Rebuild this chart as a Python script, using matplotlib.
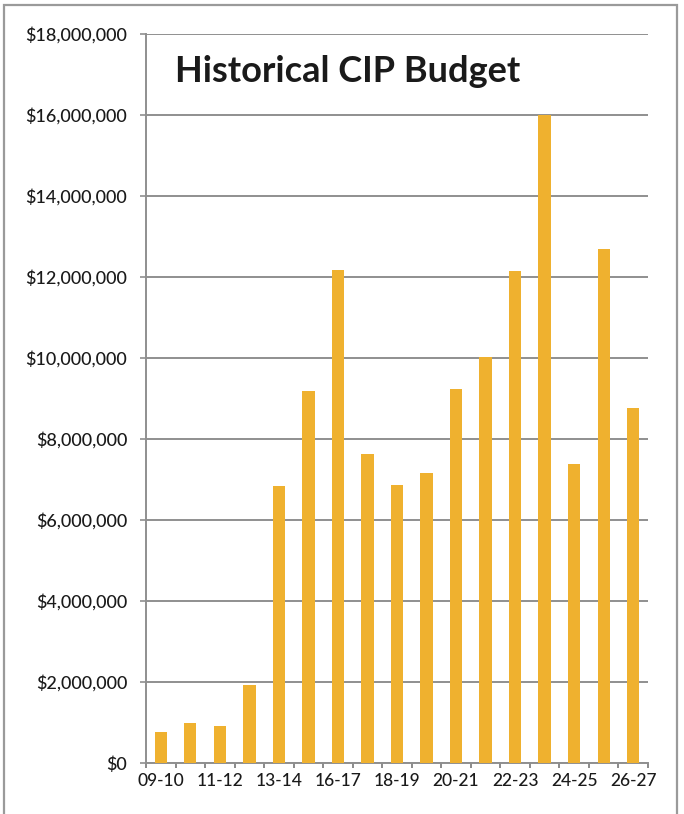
import matplotlib
matplotlib.use("Agg")
import matplotlib.pyplot as plt
from matplotlib.ticker import FuncFormatter, MultipleLocator, FixedLocator
from matplotlib.patches import Rectangle

# Fiscal years and CIP budget amounts (dollars)
fiscal_years = ["09-10", "10-11", "11-12", "12-13", "13-14", "15-16", "16-17",
                "17-18", "18-19", "19-20", "20-21", "21-22", "22-23", "23-24",
                "24-25", "25-26", "26-27"]
budget = [770_000, 1_000_000, 910_000, 1_920_000, 6_850_000, 9_190_000,
          12_170_000, 7_640_000, 6_860_000, 7_170_000, 9_230_000, 10_030_000,
          12_150_000, 16_000_000, 7_380_000, 12_680_000, 8_760_000]
shown_labels = ["09-10", "11-12", "13-14", "16-17", "18-19", "20-21",
                "22-23", "24-25", "26-27"]
title_text = "Historical CIP Budget"

plt.rcParams["font.family"] = ["Lato", "DejaVu Sans"]

fig = plt.figure(figsize=(6.84, 8.14), dpi=100)
ax = fig.add_axes([146 / 684, 1 - 763 / 814, (648 - 146) / 684, (763 - 34) / 814])

x = list(range(len(fiscal_years)))
ax.bar(x, budget, width=0.42, color="#EFB12F", zorder=3)

ax.set_ylim(0, 18_000_000)
ax.set_xlim(-0.5, len(fiscal_years) - 0.5)
ax.yaxis.set_major_locator(MultipleLocator(2_000_000))
ax.yaxis.set_major_formatter(FuncFormatter(lambda v, _: f"${v:,.0f}"))
ax.grid(axis="y", color="#8f8f8f", linewidth=1.4, zorder=0)

# labels every other year; ticks at category boundaries
label_pos = [fiscal_years.index(s) for s in shown_labels]
ax.set_xticks(label_pos)
ax.set_xticklabels(shown_labels)
ax.tick_params(axis="x", length=0, pad=7, labelsize=12.5, labelcolor="#1a1a1a")
for lbl in ax.get_xticklabels():
    lbl.set_fontweight("medium")
ax.xaxis.set_minor_locator(FixedLocator([i - 0.5 for i in range(len(fiscal_years) + 1)]))
ax.tick_params(axis="x", which="minor", length=3.5, width=1.2, color="#777777", direction="out")
ax.tick_params(axis="y", length=4, width=1.2, color="#8f8f8f", pad=9.5,
               labelsize=13, labelcolor="#1a1a1a")
for lbl in ax.get_yticklabels():
    lbl.set_fontweight("medium")

for side in ("top", "right"):
    ax.spines[side].set_visible(False)
for side in ("left", "bottom"):
    ax.spines[side].set_color("#8f8f8f")
    ax.spines[side].set_linewidth(1.4)

ax.text(175 / 684, 1 - 71 / 814, title_text, transform=fig.transFigure,
        fontsize=26, fontweight="bold", color="#1a1a1a", va="center", ha="left")

# outer chart frame
fig.patches.append(Rectangle((4 / 684, -0.01), (677 - 4) / 684, 1 - 5 / 814 + 0.01,
                             transform=fig.transFigure, fill=False,
                             edgecolor="#9a9a9a", linewidth=1.6))

fig.savefig("out.png", dpi=100, facecolor="white")
